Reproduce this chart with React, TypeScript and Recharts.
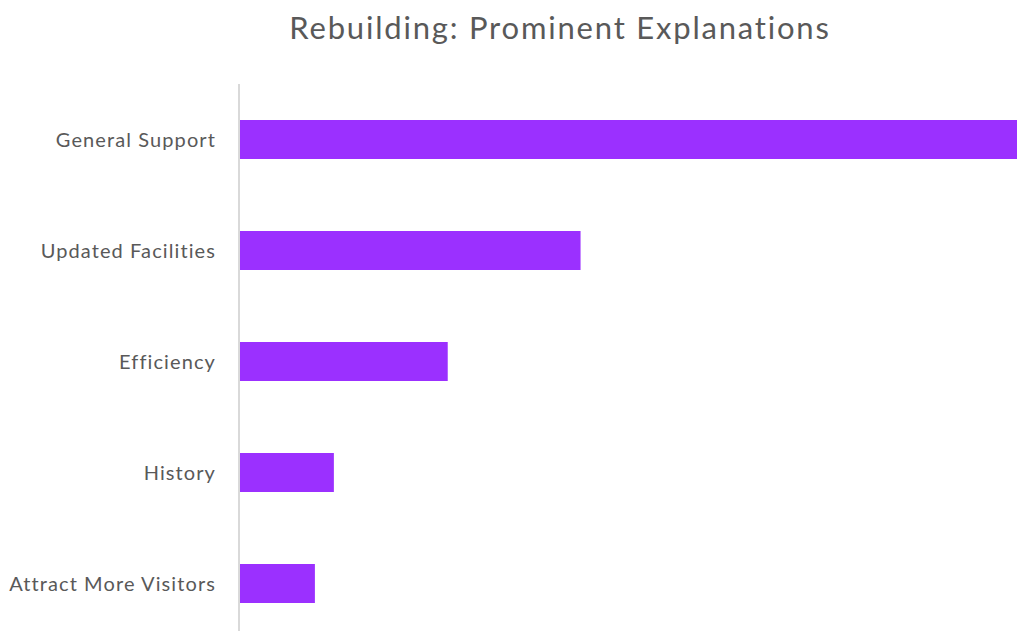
import { BarChart, Bar, XAxis, YAxis } from 'recharts';

const categories = [
  'General Support',
  'Updated Facilities',
  'Efficiency',
  'History',
  'Attract More Visitors',
];
const counts = [41, 18, 11, 5, 4];

const data = categories.map((name, i) => ({ name, value: counts[i] }));

const FONT = 'Lato, "Noto Sans", sans-serif';

export default function App() {
  return (
    <div style={{ position: 'absolute', left: 0, top: 0, width: 1017, height: 631, overflow: 'hidden', background: '#fff' }}>
      <div
        style={{
          position: 'absolute',
          left: 0,
          width: 1120,
          top: 8,
          textAlign: 'center',
          fontFamily: FONT,
          fontSize: 31,
          letterSpacing: 1.8,
          color: '#595959',
        }}
      >
        Rebuilding: Prominent Explanations
      </div>
      <BarChart
        width={1017}
        height={650}
        data={data}
        layout="vertical"
        margin={{ top: 84, right: 0, bottom: 11, left: 0 }}
        barSize={39}
      >
        <XAxis type="number" domain={[0, 41]} hide />
        <YAxis
          type="category"
          dataKey="name"
          width={239}
          tickLine={false}
          tickSize={0}
          tickMargin={23}
          axisLine={{ stroke: '#d9d9d9', strokeWidth: 2 }}
          tick={{ fill: '#595959', fontSize: 20, fontFamily: FONT, letterSpacing: 1.1 }}
        />
        <Bar dataKey="value" fill="#9b30ff" isAnimationActive={false} />
      </BarChart>
    </div>
  );
}
